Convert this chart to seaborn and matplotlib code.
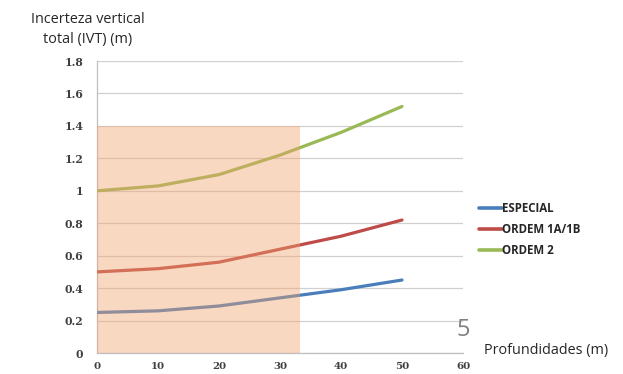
import matplotlib
matplotlib.use("Agg")
import matplotlib.pyplot as plt
from matplotlib.patches import Rectangle
import seaborn as sns
import pandas as pd

# Depths (m) and total vertical uncertainty (m) for each survey order
depths = [0, 10, 20, 30, 40, 50]
especial = [0.25, 0.26, 0.29, 0.34, 0.39, 0.45]
ordem_1a1b = [0.50, 0.52, 0.56, 0.64, 0.72, 0.82]
ordem_2 = [1.00, 1.03, 1.10, 1.22, 1.36, 1.52]
series_names = ["ESPECIAL", "ORDEM 1A/1B", "ORDEM 2"]
series_colors = ["#4A7EBB", "#BE4B48", "#98B954"]

x_ticks = [0, 10, 20, 30, 40, 50, 60]
y_ticks = [0, 0.2, 0.4, 0.6, 0.8, 1, 1.2, 1.4, 1.6, 1.8]
y_tick_labels = ["0", "0.2", "0.4", "0.6", "0.8", "1", "1.2", "1.4", "1.6", "1.8"]

# Highlighted shallow-water zone
zone_depth = 33.3
zone_height = 1.4

df = pd.DataFrame({
    "Profundidade": depths * 3,
    "IVT": especial + ordem_1a1b + ordem_2,
    "Ordem": [n for n in series_names for _ in depths],
})

sns.set_style("white")
fig = plt.figure(figsize=(6.23, 3.74), dpi=100)
ax = fig.add_axes([0.1557, 0.0561, 0.5875, 0.7807])

sns.lineplot(data=df, x="Profundidade", y="IVT", hue="Ordem",
             hue_order=series_names, palette=series_colors,
             linewidth=2.3, ax=ax, legend=False, zorder=3)

ax.add_patch(Rectangle((0, 0), zone_depth, zone_height,
                       facecolor="#F2A26E", alpha=0.42, edgecolor="none", zorder=4))

ax.set_xlim(0, 60)
ax.set_ylim(0, 1.8)
ax.set_xticks(x_ticks)
ax.set_yticks(y_ticks)
ax.set_yticklabels(y_tick_labels)
ax.set_xlabel("")
ax.set_ylabel("")

ax.grid(axis="y", color="#D0D0D0", linewidth=0.9, zorder=1)
ax.set_axisbelow(True)
for side in ("top", "right"):
    ax.spines[side].set_visible(False)
for side in ("left", "bottom"):
    ax.spines[side].set_color("#BFBFBF")
    ax.spines[side].set_linewidth(0.9)
ax.tick_params(axis="both", direction="out", length=5, width=0.9,
               color="#BFBFBF", labelsize=7.8, labelcolor="#404040")
ax.tick_params(axis="y", pad=5)
ax.tick_params(axis="x", pad=1.5, labelsize=7.4)
for lbl in ax.get_xticklabels() + ax.get_yticklabels():
    lbl.set_fontfamily("DejaVu Serif")
    lbl.set_fontweight("bold")

# Legend drawn beside the plot area
handles = [plt.Line2D([], [], color=c, linewidth=2.6) for c in series_colors]
fig.legend(handles, series_names, loc="upper left",
           bbox_to_anchor=(0.752, 0.488), frameon=False,
           handlelength=2.0, handletextpad=0.0, labelspacing=0.72,
           prop={"family": "Open Sans", "weight": "bold", "size": 8.3},
           labelcolor="#262626")

fig.text(0.141, 0.922, "Incerteza vertical\ntotal (IVT) (m)", ha="center",
         va="center", fontsize=10.4, family="Open Sans", color="#262626",
         linespacing=1.45)
fig.text(0.777, 0.063, "Profundidades (m)", ha="left", va="center",
         fontsize=10.4, family="Open Sans", color="#262626")
fig.text(0.743, 0.117, "5", ha="center", va="center", fontsize=17,
         family="Open Sans", color="#7F7F7F")

fig.savefig("out.png", dpi=100)
